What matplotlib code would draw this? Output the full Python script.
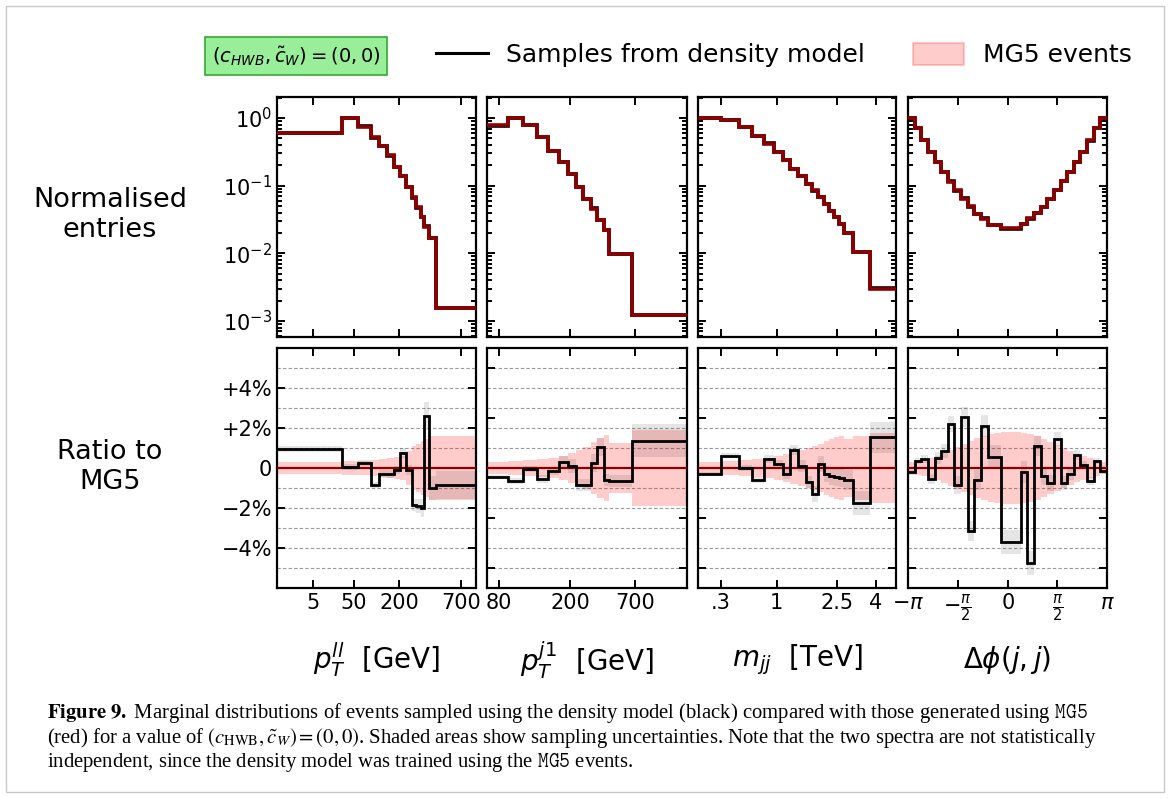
import numpy as np
import matplotlib.pyplot as plt
from matplotlib.lines import Line2D
from matplotlib.patches import Patch, Rectangle

# ---- data ----
# bin edges are on the (transformed) plotting axis of each observable, 0..1
ptll_edges = [0, 0.327, 0.407, 0.470, 0.515, 0.555, 0.588, 0.616, 0.648, 0.676,
              0.701, 0.724, 0.741, 0.764, 0.799, 1.0]
ptll_mg5 = [0.60, 1.0, 0.75, 0.52, 0.39, 0.28, 0.19, 0.137, 0.096, 0.067,
            0.048, 0.035, 0.0245, 0.0169, 0.00157]
ptll_ratio = [0.97, 0.05, 0.25, -0.87, -0.28, -0.28, -0.12, 0.75, -0.12, -1.83,
              -1.92, -2.0, 2.62, -1.0, -0.83]
ptll_mg5_err = [0.3, 0.33, 0.37, 0.42, 0.47, 0.52, 0.55, 0.6, 0.85, 1.08,
                1.2, 1.33, 1.45, 1.58, 1.62]
ptll_model_err = [0.15, 0.15, 0.15, 0.15, 0.2, 0.2, 0.2, 0.25, 0.25, 0.3,
                  0.35, 0.45, 0.7, 0.6, 0.7]
ptll_ticks = [0.181, 0.387, 0.613, 0.925]
ptll_ticklabels = ['5', '50', '200', '700']

ptj_edges = [0, 0.105, 0.181, 0.251, 0.306, 0.360, 0.403, 0.445, 0.482, 0.519,
             0.552, 0.586, 0.612, 0.725, 1.0]
ptj_mg5 = [0.78, 1.0, 0.78, 0.52, 0.33, 0.224, 0.147, 0.096, 0.064, 0.046,
           0.031, 0.022, 0.0099, 0.00121]
ptj_ratio = [-0.45, -0.67, -0.05, -0.55, -0.17, 0.28, 0.12, -0.83, -0.83, 0.25,
             1.03, -0.58, -0.63, 1.37]
ptj_mg5_err = [0.3, 0.33, 0.38, 0.45, 0.5, 0.6, 0.75, 0.9, 1.05, 1.3,
               1.5, 1.67, 1.27, 1.92]
ptj_model_err = [0.12, 0.15, 0.15, 0.2, 0.2, 0.3, 0.35, 0.3, 0.3, 0.45,
                 0.45, 0.3, 0.3, 0.83]
ptj_ticks = [0.059, 0.415, 0.740]
ptj_ticklabels = ['80', '200', '700']

mjj_edges = [0, 0.118, 0.207, 0.275, 0.332, 0.383, 0.427, 0.467, 0.506, 0.543,
             0.576, 0.607, 0.636, 0.663, 0.688, 0.712, 0.739, 0.784, 0.869, 1.0]
mjj_mg5 = [1.0, 0.94, 0.74, 0.55, 0.42, 0.31, 0.237, 0.178, 0.139, 0.107,
           0.0853, 0.068, 0.054, 0.042, 0.0344, 0.0274, 0.020, 0.0105, 0.0030]
mjj_ratio = [-0.3, 0.62, -0.02, -0.62, 0.45, 0.22, -0.3, 0.88, 0.12, -0.72,
             -1.28, 0.22, -0.3, -0.38, -0.45, -0.5, -0.58, -1.75, 1.53]
mjj_mg5_err = [0.3, 0.33, 0.4, 0.45, 0.5, 0.6, 0.7, 0.8, 0.9, 1.0,
               1.1, 1.2, 1.35, 1.45, 1.55, 1.62, 1.45, 1.6, 1.75]
mjj_model_err = [0.12, 0.12, 0.15, 0.15, 0.2, 0.2, 0.25, 0.25, 0.3, 0.3,
                 0.4, 0.4, 0.4, 0.45, 0.45, 0.45, 0.5, 0.58, 0.77]
mjj_ticks = [0.115, 0.398, 0.701, 0.898]
mjj_ticklabels = ['.3', '1', '2.5', '4']

dphi_edges = np.linspace(-np.pi, np.pi, 31)
dphi_mg5 = [1.0, 0.71, 0.48, 0.32, 0.224, 0.159, 0.113, 0.085, 0.064, 0.0495,
            0.0386, 0.0325, 0.026, 0.026, 0.0239, 0.0239, 0.0239, 0.0275, 0.0333, 0.0394,
            0.0484, 0.064, 0.085, 0.117, 0.159, 0.224, 0.318, 0.468, 0.71, 1.0]
dphi_ratio = [-0.22, 0.33, 0.45, -0.55, 0.5, 0.83, 2.22, -0.87, 2.55, -3.13,
              -0.58, 2.12, 0.53, 0.53, -3.72, -3.72, -3.72, -0.22, -4.75, 1.12,
              -0.38, -0.75, 1.45, -0.75, -0.3, 0.63, 0.17, -0.63, 0.33, -0.17]
dphi_mg5_err = [0.28, 0.33, 0.42, 0.5, 0.62, 0.75, 0.9, 1.05, 1.2, 1.35,
                1.5, 1.6, 1.7, 1.75, 1.8, 1.8, 1.8, 1.75, 1.7, 1.6,
                1.45, 1.3, 1.15, 1.0, 0.85, 0.72, 0.6, 0.5, 0.4, 0.3]
dphi_model_err = [0.12, 0.15, 0.2, 0.25, 0.3, 0.35, 0.4, 0.45, 0.5, 0.5,
                  0.5, 0.55, 0.6, 0.6, 0.6, 0.6, 0.6, 0.55, 0.6, 0.5,
                  0.45, 0.4, 0.35, 0.35, 0.3, 0.25, 0.2, 0.2, 0.15, 0.12]
dphi_ticks = [-np.pi, -np.pi / 2, 0, np.pi / 2, np.pi]
dphi_ticklabels = [r'$-\pi$', r'$-\frac{\pi}{2}$', r'$0$', r'$\frac{\pi}{2}$', r'$\pi$']

panels = [
    (ptll_edges, ptll_mg5, ptll_ratio, ptll_mg5_err, ptll_model_err,
     ptll_ticks, ptll_ticklabels, r'$p_T^{ll}$  [GeV]'),
    (ptj_edges, ptj_mg5, ptj_ratio, ptj_mg5_err, ptj_model_err,
     ptj_ticks, ptj_ticklabels, r'$p_T^{j1}$  [GeV]'),
    (mjj_edges, mjj_mg5, mjj_ratio, mjj_mg5_err, mjj_model_err,
     mjj_ticks, mjj_ticklabels, r'$m_{jj}$  [TeV]'),
    (dphi_edges, dphi_mg5, dphi_ratio, dphi_mg5_err, dphi_model_err,
     dphi_ticks, dphi_ticklabels, r'$\Delta\phi(j, j)$'),
]

# ---- layout ----
W, H = 1170, 798
fig = plt.figure(figsize=(W / 100, H / 100), dpi=100)


def add_px_axes(x0, y0, x1, y1):
    return fig.add_axes([x0 / W, 1 - y1 / H, (x1 - x0) / W, (y1 - y0) / H])


cols = [(277, 476), (487, 687), (698, 896), (908, 1107)]
PINK = (1, 0, 0, 0.2)
GREY = (0, 0, 0, 0.1)
DARKRED = '#8b0000'


def style(ax):
    for s in ax.spines.values():
        s.set_linewidth(1.6)
    ax.tick_params(which='both', direction='in', top=True, right=True,
                   width=1.4, labelsize=15)
    ax.tick_params(which='major', length=6)
    ax.tick_params(which='minor', length=3.5)


for i, (edges, mg5, ratio, mg5_err, model_err, ticks, ticklabels, xlabel) in enumerate(panels):
    edges = np.asarray(edges, dtype=float)
    mg5 = np.asarray(mg5)
    ratio = np.asarray(ratio)
    mg5_err = np.asarray(mg5_err)
    model_err = np.asarray(model_err)
    model = mg5 * (1 + ratio / 100)
    x0, x1 = cols[i]

    # top: normalised spectra
    ax = add_px_axes(x0, 97, x1, 337)
    ax.set_yscale('log')
    ax.stairs(mg5 * (1 + mg5_err / 100), edges, baseline=mg5 * (1 - mg5_err / 100),
              fill=True, color=PINK, zorder=1)
    ax.stairs(model, edges, baseline=None, color='black', lw=2.6, zorder=2)
    ax.stairs(mg5, edges, baseline=None, color=DARKRED, lw=2.6, zorder=3)
    ax.set_ylim(5.8e-4, 2.05)
    ax.set_xlim(edges[0], edges[-1])
    ax.set_xticks(ticks)
    ax.set_xticklabels([])
    style(ax)
    if i > 0:
        ax.set_yticklabels([], minor=True)
        ax.set_yticklabels([])

    # bottom: ratio to MG5 in percent
    ax = add_px_axes(x0, 348, x1, 588)
    for g in range(-5, 6):
        if g != 0:
            ax.axhline(g, color='#999999', ls=(0, (3, 2)), lw=0.8, zorder=0)
    ax.stairs(mg5_err, edges, baseline=-mg5_err, fill=True, color=PINK, lw=0, zorder=1)
    ax.stairs(ratio + model_err, edges, baseline=ratio - model_err, fill=True,
              color=GREY, lw=0, zorder=2)
    ax.axhline(0, color=DARKRED, lw=1.6, zorder=3)
    ax.stairs(ratio, edges, baseline=None, color='black', lw=2.0, zorder=4)
    ax.set_ylim(-6, 6)
    ax.set_xlim(edges[0], edges[-1])
    ax.set_xticks(ticks)
    ax.set_xticklabels(ticklabels)
    style(ax)
    if i == 0:
        ax.set_yticks([-4, -2, 0, 2, 4])
        ax.set_yticklabels(['\u22124%', '\u22122%', '0', '+2%', '+4%'])
    else:
        ax.set_yticks([-5, -2.5, 0, 2.5, 5])
        ax.set_yticklabels([])
    ax.text(0.5, -0.30, xlabel, transform=ax.transAxes, ha='center', va='center',
            fontsize=20)

# row labels
fig.text(110 / W, 1 - 215 / H, 'Normalised\nentries', ha='center', va='center', fontsize=19.5)
fig.text(110 / W, 1 - 467 / H, 'Ratio to\nMG5', ha='center', va='center', fontsize=19.5)

# coefficient box and legend
fig.text(296 / W, 1 - 56 / H, r'$(c_{HWB}, \tilde{c}_W) = (0, 0)$', ha='center', va='center',
         fontsize=14, bbox=dict(boxstyle='square,pad=0.35', fc='#99ee99', ec='#33aa33', lw=1.2))
handles = [Line2D([], [], color='black', lw=2.2),
           Patch(facecolor=PINK, edgecolor=PINK, lw=1.5)]
fig.legend(handles, ['Samples from density model', 'MG5 events'], loc='center',
           bbox_to_anchor=(784 / W, 1 - 55 / H), ncol=2, frameon=False, fontsize=18,
           handlelength=2.05, handleheight=1.0, handletextpad=0.75, columnspacing=1.9)

# caption
cap = dict(fontsize=14.9, family='Liberation Serif', math_fontfamily='stix',
           ha='left', va='center')
fig.text(47 / W, 1 - 713 / H,
         r'$\mathbf{Figure\ 9.}$ Marginal distributions of events sampled using the density '
         r'model (black) compared with those generated using $\mathtt{MG5}$', **cap)
fig.text(47 / W, 1 - 738 / H,
         r'(red) for a value of $(c_{\mathrm{HWB}}, \tilde{c}_W) = (0, 0)$. Shaded areas show '
         r'sampling uncertainties. Note that the two spectra are not statistically', **cap)
fig.text(47 / W, 1 - 762 / H,
         r'independent, since the density model was trained using the $\mathtt{MG5}$ events.',
         **cap)

fig.patches.append(Rectangle((6 / W, 6 / H), 1 - 12 / W, 1 - 12 / H, transform=fig.transFigure,
                             fill=False, ec='#c8c8c8', lw=1.0))

fig.savefig('out.png', dpi=100)
